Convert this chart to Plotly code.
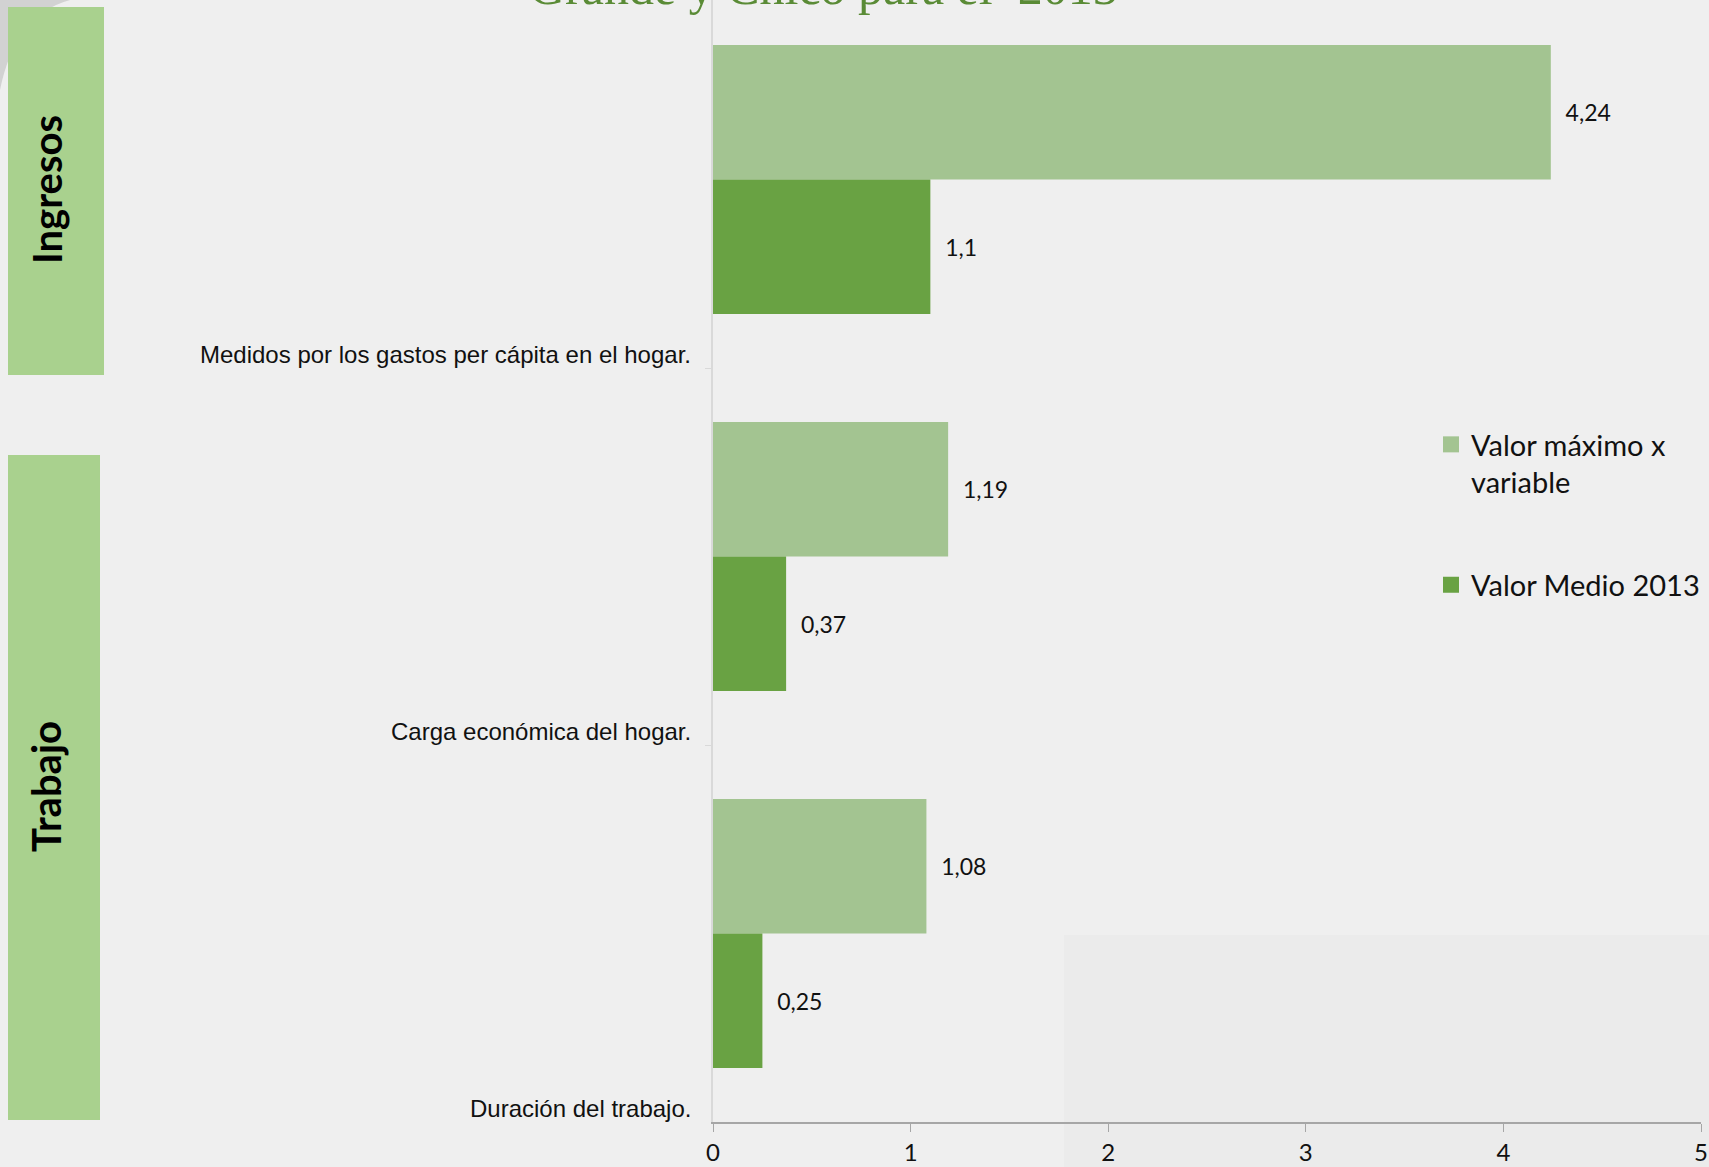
import plotly.graph_objects as go

# ---------------- data ----------------
categories = [
    "Medidos por los gastos per cápita en el hogar.",
    "Carga económica del hogar.",
    "Duración del trabajo.",
]
series_names = ["Valor máximo x<br>variable", "Valor Medio 2013"]
max_values = [4.24, 1.19, 1.08]
mean_values = [1.1, 0.37, 0.25]
x_ticks = [0, 1, 2, 3, 4, 5]
group_labels = ["Ingresos", "Trabajo"]
title_text = "Grande y Chico para el  2013"

# ---------------- style ----------------
W, H = 1709, 1167
PL, PR, PT, PB = 713, 1701, 0, 1122  # plot area in pixels
BG = "#EFEFEF"
LIGHT = "#A3C491"
DARK = "#69A243"
BOX = "#A9D18E"
TITLE_GREEN = "#5A8B36"


def px_x(px):
    return (px - PL) / (PR - PL)


def px_y(py):
    return 1 - (py - PT) / (PB - PT)


def fmt(v):
    return f"{v:g}".replace(".", ",")


PAD = "\u00a0\u00a0"

fig = go.Figure()
for name, vals, color, grp in [
    (series_names[0], max_values, LIGHT, "a"),
    (series_names[1], mean_values, DARK, "b"),
]:
    fig.add_trace(
        go.Bar(
            y=categories,
            x=vals,
            orientation="h",
            name=name,
            legendgroup=grp,
            showlegend=False,
            marker=dict(color=color, line=dict(width=0)),
            text=[PAD + fmt(v) for v in vals],
            textposition="outside",
            textfont=dict(family="Lato", size=23, color="#111111"),
            constraintext="none",
            cliponaxis=False,
        )
    )
    # legend entry with a larger square key (shares the bar's legend group)
    fig.add_trace(
        go.Scatter(
            x=[None], y=[None], mode="markers", name=name, legendgroup=grp,
            marker=dict(symbol="square", size=18, color=color),
            showlegend=True, hoverinfo="skip",
        )
    )

# background decorations
shapes = [
    # top-left gray curl
    dict(type="path", xref="paper", yref="paper",
         path=f"M {px_x(0)},{px_y(0)} L {px_x(70)},{px_y(0)} Q {px_x(15)},{px_y(15)} {px_x(0)},{px_y(90)} Z",
         fillcolor="#D2D2D2", line=dict(width=0), layer="below"),
    # slightly darker lower-right panel
    dict(type="rect", xref="paper", yref="paper",
         x0=px_x(1064), x1=px_x(W + 5), y0=px_y(H + 5), y1=px_y(935),
         fillcolor="#EBEBEB", line=dict(width=0), layer="below"),
    # group boxes
    dict(type="rect", xref="paper", yref="paper",
         x0=px_x(8), x1=px_x(104), y0=px_y(375), y1=px_y(7),
         fillcolor=BOX, line=dict(width=0), layer="below"),
    dict(type="rect", xref="paper", yref="paper",
         x0=px_x(8), x1=px_x(100), y0=px_y(1120), y1=px_y(455),
         fillcolor=BOX, line=dict(width=0), layer="below"),
]

annotations = []
# category labels at the lower boundary of each band
for i, cat in enumerate(categories):
    annotations.append(dict(
        x=0, xref="x", y=i + 0.5, yref="y",
        text=cat, showarrow=False, xanchor="right", yanchor="middle",
        xshift=-20, yshift=14,
        font=dict(family="Liberation Sans", size=24, color="#111111"),
    ))
# group labels
for lab, cy, cx in [(group_labels[0], 190, 47), (group_labels[1], 787, 46)]:
    annotations.append(dict(
        x=px_x(cx), xref="paper", y=px_y(cy), yref="paper",
        text=f"<b>{lab}</b>", showarrow=False, textangle=-90,
        xanchor="center", yanchor="middle",
        font=dict(family="Lato", size=40, color="#000000"),
    ))
# title (cut off at the top, as in the original)
annotations.append(dict(
    x=px_x(823), xref="paper", y=px_y(-13), yref="paper",
    text=title_text, showarrow=False, xanchor="center", yanchor="middle",
    font=dict(family="Liberation Serif", size=50, color=TITLE_GREEN),
))

fig.update_layout(
    width=W, height=H, autosize=False,
    margin=dict(l=PL, r=W - PR, t=PT, b=H - PB, pad=0),
    paper_bgcolor=BG, plot_bgcolor="rgba(0,0,0,0)",
    barmode="group", bargap=0.286, bargroupgap=0,
    shapes=shapes, annotations=annotations,
    showlegend=True,
    legend=dict(
        x=px_x(1431), y=px_y(419), xanchor="left", yanchor="top",
        bgcolor="rgba(0,0,0,0)", borderwidth=0,
        font=dict(family="Lato", size=29, color="#111111"),
        traceorder="grouped", tracegroupgap=62, valign="top",
    ),
    xaxis=dict(
        range=[0, 5], tickvals=x_ticks, ticktext=[str(t) for t in x_ticks],
        showgrid=False, zeroline=False, automargin=False,
        showline=True, linecolor="#A6A6A6", linewidth=1.5,
        ticks="outside", ticklen=8, tickcolor="#A6A6A6", tickwidth=1,
        ticklabelstandoff=0,
        tickfont=dict(family="Lato", size=24, color="#111111"),
        fixedrange=True,
    ),
    yaxis=dict(
        type="category", categoryorder="array", categoryarray=categories,
        range=[2.5, -0.5 + 9 / 377], automargin=False,
        showticklabels=False, showgrid=False, zeroline=False,
        showline=True, linecolor="#D9D9D9", linewidth=1.5,
        ticks="outside", ticklen=6, tickcolor="#D9D9D9", tickson="boundaries",
        fixedrange=True,
    ),
)

fig.write_html("out.html", config={"displayModeBar": False})

# remove the default page margin so the figure fills the window exactly
with open("out.html", "r", encoding="utf-8") as f:
    html = f.read()
html = html.replace(
    "<head>",
    f"<head><style>html,body{{margin:0;padding:0;overflow:hidden;background:{BG};}}</style>",
    1,
)
with open("out.html", "w", encoding="utf-8") as f:
    f.write(html)
